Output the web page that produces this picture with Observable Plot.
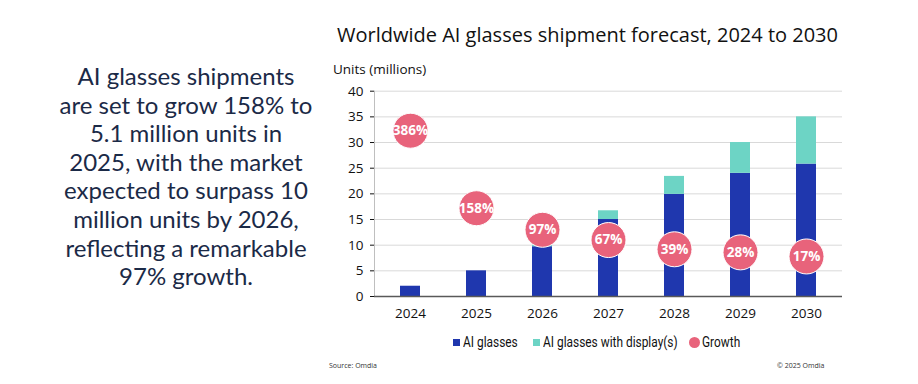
<!DOCTYPE html>
<html><head><meta charset="utf-8">
<script src="https://cdn.jsdelivr.net/npm/d3@7"></script>
<script src="https://cdn.jsdelivr.net/npm/@observablehq/plot@0.6"></script>
<style>
html,body{margin:0;padding:0;background:#fff;}
#wrap{position:relative;width:918px;height:384px;overflow:hidden;font-family:"Open Sans",sans-serif;}
#wrap svg{position:absolute;left:0;top:0;}
.abs{position:absolute;white-space:nowrap;}
#lead{left:40px;top:62px;width:292px;text-align:center;font-family:Lato,sans-serif;font-size:24px;line-height:28.6px;color:#1b2a47;}
#title{left:337px;top:21px;font-size:20px;color:#111;}
#ylab{left:333px;top:60px;font-size:13.5px;color:#111;}
.lg{position:absolute;top:333px;font-size:14px;color:#111;line-height:18px;font-family:Roboto,sans-serif;transform:scaleX(0.85);transform-origin:left center;white-space:nowrap;}
.sw{position:absolute;width:7px;height:7px;top:339px;}
.ci{position:absolute;width:11px;height:11px;border-radius:50%;top:337px;}
.foot{top:361px;font-size:7px;color:#333;}
</style></head>
<body><div id="wrap">
<div id="lead" class="abs">AI glasses shipments<br>are set to grow 158% to<br>5.1 million units in<br>2025, with the market<br>expected to surpass 10<br>million units by 2026,<br>reflecting a remarkable<br>97% growth.</div>
<div id="title" class="abs">Worldwide AI glasses shipment forecast, 2024 to 2030</div>
<div id="ylab" class="abs">Units (millions)</div>
<div class="abs foot" style="left:329px">Source: Omdia</div>
<div class="abs foot" style="left:777px">© 2025 Omdia</div>
</div>
<script>
const years = ["2024","2025","2026","2027","2028","2029","2030"];
const aiGlasses = [2.0, 5.0, 9.7, 15.0, 19.9, 24.0, 25.8];
const withDisplay = [0.0, 0.0, 0.3, 1.7, 3.5, 6.0, 9.2];
const growthLabels = ["386%","158%","97%","67%","39%","28%","17%"];
const growthY = [32.3, 17.2, 13.0, 11.0, 9.2, 8.6, 7.8];
const seriesNames = ["AI glasses","AI glasses with display(s)"];
const seriesColors = ["#1f37ae","#6dd4c5"];
const growthName = "Growth";
const growthColor = "#e8637b";
const yTicks = [0,5,10,15,20,25,30,35,40];

const bars = [];
years.forEach((y,i)=>{
  bars.push({year:y, series:seriesNames[0], value:aiGlasses[i]});
  bars.push({year:y, series:seriesNames[1], value:withDisplay[i]});
});
const growth = years.map((y,i)=>({year:y, v:growthY[i], label:growthLabels[i]}));

const chart = Plot.plot({
  width:918, height:384,
  marginLeft:374, marginRight:76, marginTop:90.7, marginBottom:88,
  style:{fontFamily:"'Open Sans',sans-serif", fontSize:"13.5px", color:"#111", background:"transparent"},
  x:{domain:years, paddingInner:0.69, paddingOuter:0.36, label:null, tickSize:0, tickPadding:12},
  y:{domain:[0,40], ticks:yTicks, label:null, tickSize:4, tickPadding:7},
  color:{domain:seriesNames, range:seriesColors},
  marks:[
    Plot.gridY(yTicks,{stroke:"#d9d9d9", strokeOpacity:1}),
    Plot.frame({anchor:"left", stroke:"#bfbfbf"}),
    Plot.barY(bars,{x:"year", y:"value", fill:"series", order:seriesNames}),
    Plot.ruleY([0],{stroke:"#595959", strokeWidth:1.5}),
    Plot.dot(growth,{x:"year", y:"v", r:17.5, fill:growthColor, stroke:"#fff", strokeWidth:1}),
    Plot.text(growth,{x:"year", y:"v", text:"label", fill:"#fff", fontSize:13.5, fontWeight:"bold"})
  ]
});
const wrap = document.getElementById("wrap");
wrap.prepend(chart);

// legend items: [marker left, text left]
const legendPos = [[453,463],[533,543],[689,702]];
const legendItems = [
  {name:seriesNames[0], color:seriesColors[0], cls:"sw"},
  {name:seriesNames[1], color:seriesColors[1], cls:"sw"},
  {name:growthName, color:growthColor, cls:"ci"}
];
legendItems.forEach((d,i)=>{
  const m=document.createElement("div"); m.className=d.cls;
  m.style.left=legendPos[i][0]+"px"; m.style.background=d.color;
  wrap.appendChild(m);
  const t=document.createElement("div"); t.className="lg";
  t.style.left=legendPos[i][1]+"px"; t.textContent=d.name;
  wrap.appendChild(t);
});
</script>
</body></html>
